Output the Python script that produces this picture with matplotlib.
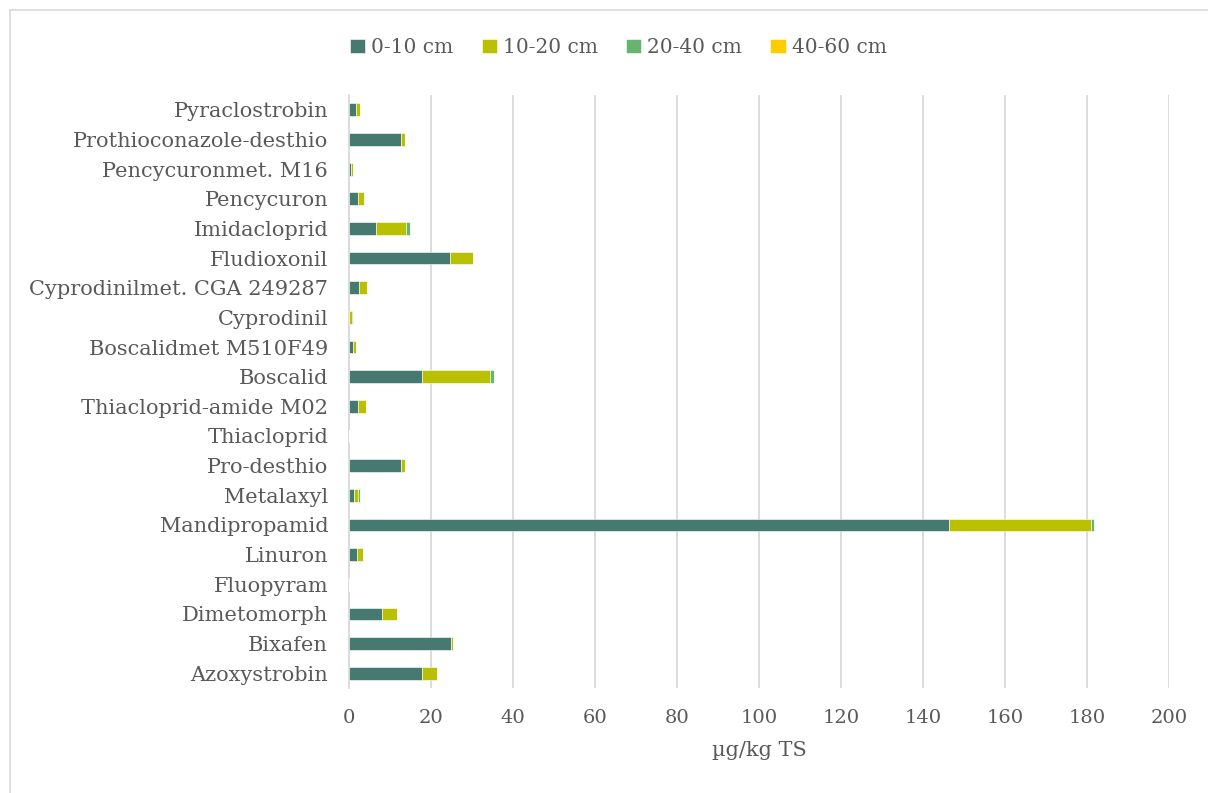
import matplotlib
matplotlib.use("Agg")
import matplotlib.pyplot as plt
from matplotlib.patches import Rectangle
import numpy as np

# Compounds, listed bottom to top as they appear on the y axis
compounds = [
    "Azoxystrobin", "Bixafen", "Dimetomorph", "Fluopyram", "Linuron",
    "Mandipropamid", "Metalaxyl", "Pro-desthio", "Thiacloprid",
    "Thiacloprid-amide M02", "Boscalid", "Boscalidmet M510F49", "Cyprodinil",
    "Cyprodinilmet. CGA 249287", "Fludioxonil", "Imidacloprid", "Pencycuron",
    "Pencycuronmet. M16", "Prothioconazole-desthio", "Pyraclostrobin",
]

# Residue concentrations (µg/kg TS) per soil depth
depth_0_10 = [17.9, 24.9, 8.0, 0.0, 2.0, 146.3, 1.2, 12.7, 0.0, 2.3,
              17.8, 1.0, 0.1, 2.4, 24.6, 6.6, 2.2, 0.4, 12.7, 1.6]
depth_10_20 = [3.6, 0.5, 3.8, 0.0, 1.5, 34.8, 1.0, 1.0, 0.0, 1.8,
               16.5, 0.8, 0.7, 1.9, 5.7, 7.2, 1.5, 0.6, 1.0, 1.0]
depth_20_40 = [0.0, 0.0, 0.0, 0.0, 0.0, 0.5, 0.4, 0.0, 0.0, 0.0,
               1.0, 0.0, 0.1, 0.0, 0.0, 1.1, 0.0, 0.0, 0.0, 0.0]
depth_40_60 = [0.0] * len(compounds)

series_labels = ["0-10 cm", "10-20 cm", "20-40 cm", "40-60 cm"]
series_colors = ["#467A70", "#B8C000", "#67B46F", "#FFCC00"]
x_ticks = [0, 20, 40, 60, 80, 100, 120, 140, 160, 180, 200]

text_color = "#595959"
plt.rcParams["font.family"] = ["DejaVu Serif"]

fig = plt.figure(figsize=(12.08, 7.93), dpi=100)
ax = fig.add_axes([0.2889, 0.1324, 0.6788, 0.7478])

# Light chart frame
fig.patches.append(Rectangle((10 / 1208, -0.05), 1.2, 1 - 10 / 793 + 0.05,
                             transform=fig.transFigure, fill=False,
                             edgecolor="#D9D9D9", linewidth=1.2, zorder=0))

y = np.arange(len(compounds))
left = np.zeros(len(compounds))
for vals, lab, col in zip([depth_0_10, depth_10_20, depth_20_40, depth_40_60],
                          series_labels, series_colors):
    vals = np.array(vals)
    ax.barh(y, vals, left=left, height=0.43, color=col, label=lab,
            edgecolor="white", linewidth=0.4, zorder=3)
    left += vals

ax.set_xlim(0, 200)
ax.set_ylim(-0.5, len(compounds) - 0.5)
ax.set_xticks(x_ticks)
ax.set_yticks(y)
ax.set_yticklabels(compounds)
ax.tick_params(axis="both", length=0, colors=text_color)
ax.tick_params(axis="y", labelsize=15, pad=15)
ax.tick_params(axis="x", labelsize=14, pad=15)
ax.xaxis.grid(True, color="#D9D9D9", linewidth=1.3, zorder=0)
ax.set_axisbelow(True)
for s in ["top", "right", "bottom"]:
    ax.spines[s].set_visible(False)
ax.spines["left"].set_color("#D9D9D9")
ax.spines["left"].set_linewidth(1.3)

ax.set_xlabel("µg/kg TS", fontsize=15, color=text_color, labelpad=10)

leg = fig.legend(loc="center", bbox_to_anchor=(0.512, 0.94), ncol=4,
                 frameon=False, fontsize=14.5, handlelength=0.75,
                 handleheight=0.75, handletextpad=0.3, columnspacing=1.4,
                 labelcolor=text_color)

fig.savefig("out.png", dpi=100, facecolor="white")
